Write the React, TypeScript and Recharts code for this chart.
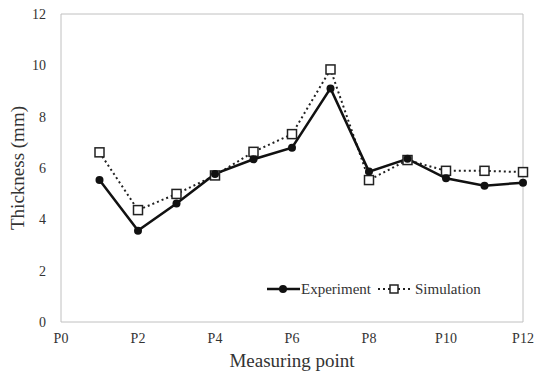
import React from "react";
import { LineChart, Line, XAxis, YAxis, ReferenceLine, Label } from "recharts";

const categories = ["P0", "P1", "P2", "P3", "P4", "P5", "P6", "P7", "P8", "P9", "P10", "P11", "P12"];
const experiment = [null, 5.53, 3.56, 4.62, 5.77, 6.34, 6.79, 9.1, 5.86, 6.36, 5.6, 5.31, 5.43];
const simulation = [null, 6.61, 4.36, 4.99, 5.71, 6.63, 7.32, 9.84, 5.53, 6.31, 5.89, 5.89, 5.84];
const yTicks = [0, 2, 4, 6, 8, 10, 12];

const data = categories.map((c, i) => ({ name: c, experiment: experiment[i], simulation: simulation[i] }));

const FONT = "Liberation Serif, Times New Roman, serif";
const AXIS = "#c0c0c0";
const TEXT = "#333";

const SquareDot = (props: any) => {
  const { cx, cy } = props;
  if (cx == null || cy == null) return null;
  return <rect x={cx - 4.5} y={cy - 4.5} width={9} height={9} fill="#fff" stroke="#222" strokeWidth={1.5} />;
};
const CircleDot = (props: any) => {
  const { cx, cy } = props;
  if (cx == null || cy == null) return null;
  return <circle cx={cx} cy={cy} r={4} fill="#111" />;
};

const XTick = (props: any) => {
  const { x, y, payload } = props;
  return (
    <text x={x} y={y + 9} textAnchor="middle" fontSize={14} fill={TEXT} style={{ fontFamily: FONT }}>
      {payload.value}
    </text>
  );
};
const YTick = (props: any) => {
  const { x, y, payload } = props;
  return (
    <text x={x} y={y + 5} textAnchor="end" fontSize={14} fill={TEXT} style={{ fontFamily: FONT }}>
      {payload.value}
    </text>
  );
};

const YLabel = (props: any) => {
  const vb = props.viewBox || {};
  const cy = (vb.y || 0) + (vb.height || 0) / 2;
  return (
    <text x={24} y={cy} transform={`rotate(-90, 24, ${cy})`} textAnchor="middle" fontSize={19} fill={TEXT} style={{ fontFamily: FONT }}>
      Thickness (mm)
    </text>
  );
};
const XLabel = (props: any) => {
  const vb = props.viewBox || {};
  const cx = (vb.x || 0) + (vb.width || 0) / 2;
  return (
    <text x={cx} y={367} textAnchor="middle" fontSize={19} fill={TEXT} style={{ fontFamily: FONT }}>
      Measuring point
    </text>
  );
};

const LegendBox = () => (
  <svg width={230} height={20} style={{ position: "absolute", left: 265, top: 279 }}>
    <line x1={2} y1={10} x2={35} y2={10} stroke="#111" strokeWidth={2.5} />
    <circle cx={18} cy={10} r={4} fill="#111" />
    <text x={36} y={15} fontSize={15} fill={TEXT} style={{ fontFamily: FONT }}>Experiment</text>
    <line x1={113} y1={10} x2={146} y2={10} stroke="#222" strokeWidth={2} strokeDasharray="2 3" />
    <rect x={125} y={6} width={8} height={8} fill="#fff" stroke="#222" strokeWidth={1.5} />
    <text x={150} y={15} fontSize={15} fill={TEXT} style={{ fontFamily: FONT }}>Simulation</text>
  </svg>
);

export default function App() {
  return (
    <div style={{ position: "absolute", left: 0, top: 0, width: 534, height: 372, background: "#fff" }}>
      <LineChart width={534} height={372} data={data} margin={{ top: 14, right: 11, bottom: 20, left: 0 }}>
        <XAxis dataKey="name" interval={1} stroke={AXIS} tickLine={false} tick={<XTick />} tickMargin={6} height={30}>
          <Label content={<XLabel />} />
        </XAxis>
        <YAxis domain={[0, 12]} ticks={yTicks} stroke={AXIS} tickLine={false} width={61} tick={<YTick />} tickMargin={9}>
          <Label content={<YLabel />} />
        </YAxis>
        <ReferenceLine y={12} stroke={AXIS} />
        <ReferenceLine x="P12" stroke={AXIS} />
        <Line dataKey="simulation" stroke="#222" strokeWidth={2} strokeDasharray="2 3" dot={<SquareDot />} isAnimationActive={false} />
        <Line dataKey="experiment" stroke="#111" strokeWidth={2.5} dot={<CircleDot />} isAnimationActive={false} />
      </LineChart>
      <LegendBox />
    </div>
  );
}
